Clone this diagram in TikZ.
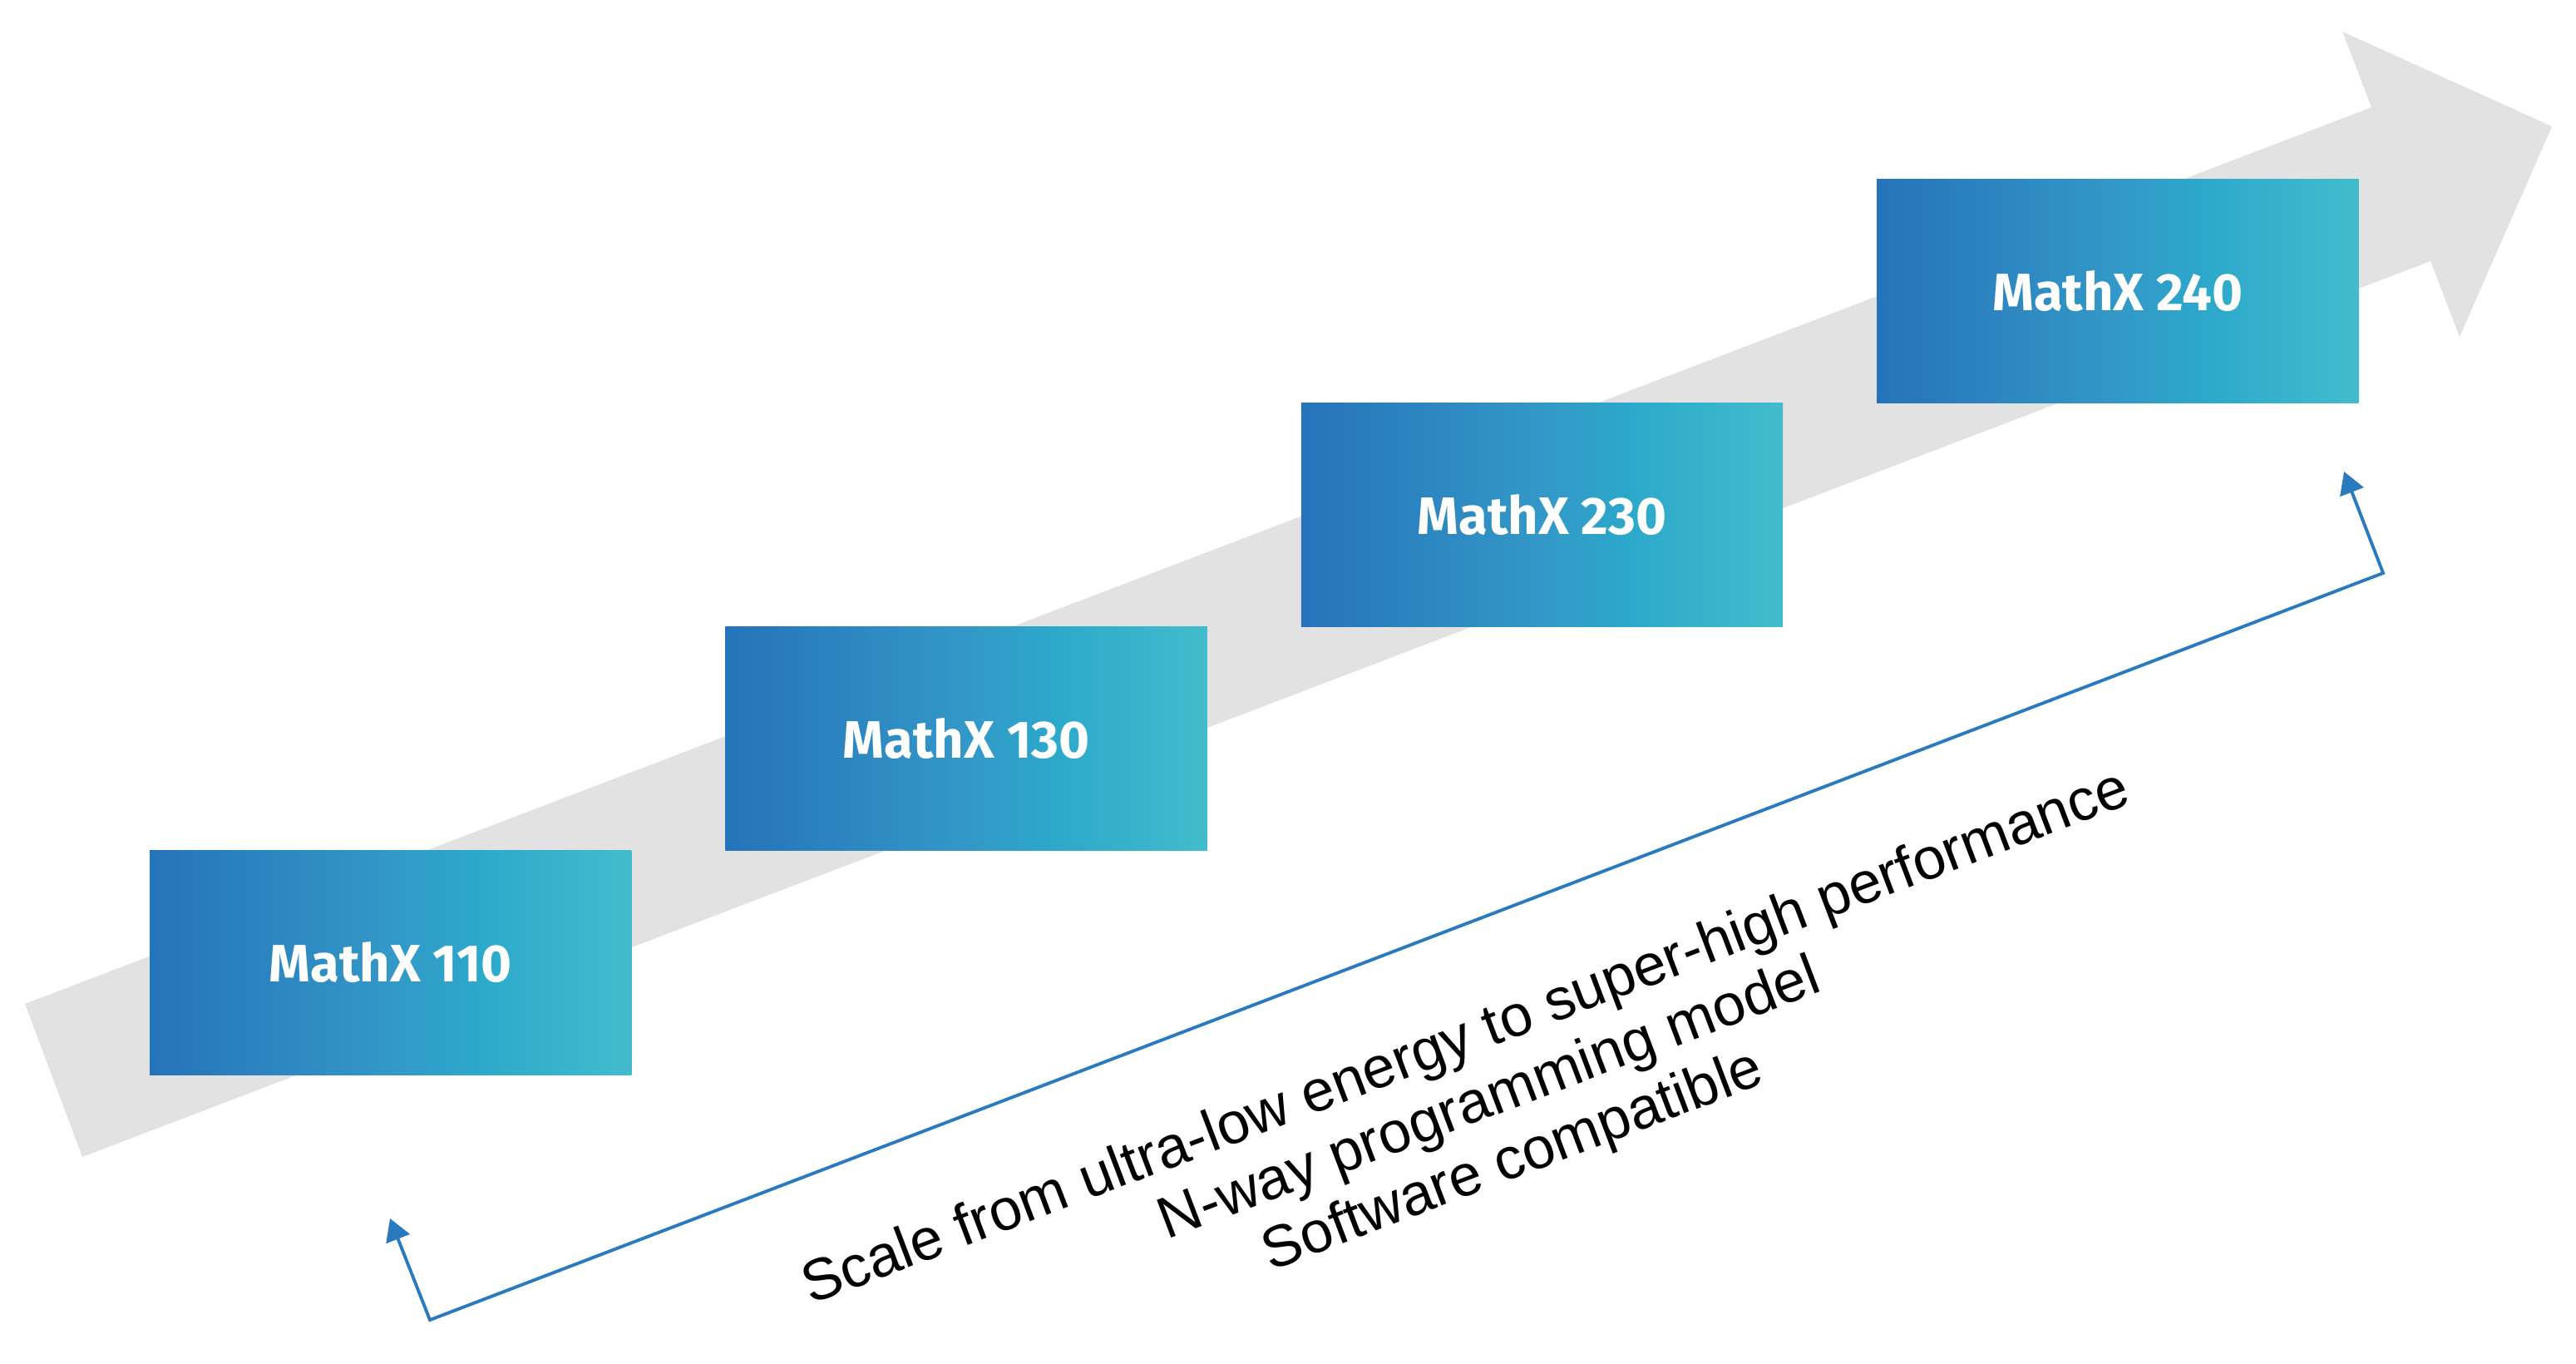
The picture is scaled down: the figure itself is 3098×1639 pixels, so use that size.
\documentclass[tikz,border=0pt]{standalone}
\usepackage{fontspec}
\setmainfont{Liberation Sans}
\newfontfamily\boxfont{Fira Sans}
\usetikzlibrary{positioning,arrows.meta}

\definecolor{arrowgray}{RGB}{226,226,226}
\definecolor{linkblue}{RGB}{41,122,191}
\definecolor{gradA}{RGB}{38,115,185}
\definecolor{gradB}{RGB}{51,152,199}
\definecolor{gradC}{RGB}{44,168,203}
\definecolor{gradD}{RGB}{66,188,204}
\pgfdeclarehorizontalshading{boxgrad}{100bp}{color(0bp)=(gradA); color(25bp)=(gradA);
  color(50bp)=(gradB); color(59bp)=(gradC); color(75bp)=(gradD); color(100bp)=(gradD)}

\begin{document}
\begin{tikzpicture}[x=0.01cm, y=-0.01cm, >={Triangle[length=7.5pt,width=8.5pt]},
  node distance=0mm and 11.3mm,
  product/.style={shade, shading=boxgrad, minimum width=57.9mm, minimum height=26.9mm,
    inner sep=0pt, outer sep=0pt, text=white, font=\boxfont\bfseries\fontsize{18}{21}\selectfont}]
  \useasboundingbox (0,0) rectangle (3098,1639);
  \fill[arrowgray] (30,1207) -- (2852,129) -- (2817,38) -- (3069,152)
    -- (2958,405) -- (2923,314) -- (99,1391) -- cycle;
  \node[product, anchor=south west] (m110) at (180,1292) {MathX 110};
  \node[product, above right=of m110.north east] (m130) {MathX 130};
  \node[product, above right=of m130.north east] (m230) {MathX 230};
  \node[product, above right=of m230.north east] (m240) {MathX 240};
  \coordinate (lotip) at (469,1465);
  \coordinate (locorner) at (517,1587);
  \coordinate (hicorner) at (2866,689);
  \coordinate (hitip) at (2819,567);
  \draw[linkblue, line width=1.1pt, <->] (lotip) -- (locorner) -- (hicorner) -- (hitip);
  \node[rotate=20.8, align=center, inner sep=0pt, font=\fontsize{20}{22.5}\selectfont]
    (claims) at (1792,1324) {Scale from ultra-low energy to super-high performance\\
    N-way programming model\\Software compatible};
\end{tikzpicture}
\end{document}
